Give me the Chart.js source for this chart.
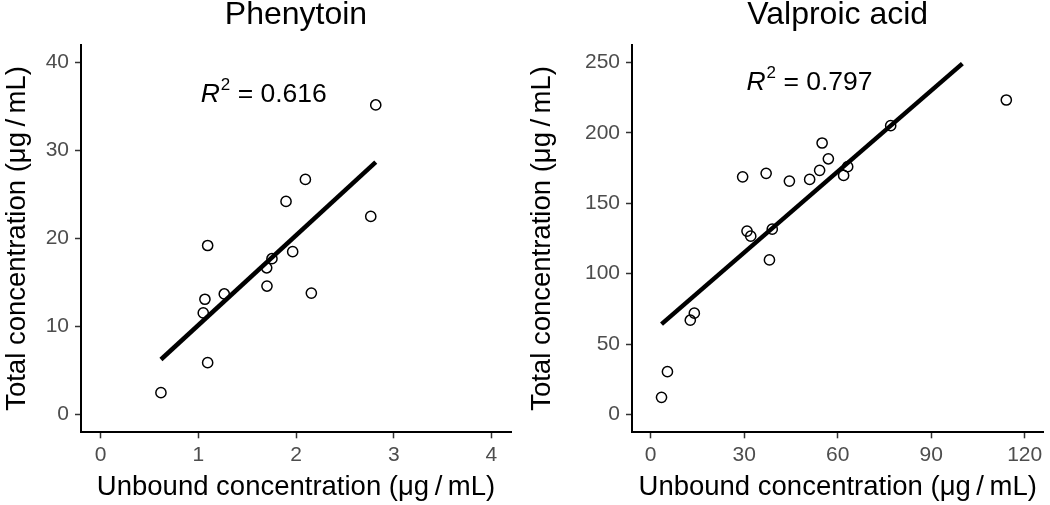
<!DOCTYPE html>
<html>
<head>
<meta charset="utf-8">
<script src="https://cdn.jsdelivr.net/npm/chart.js@4"></script>
<style>
  html, body { margin: 0; padding: 0; background: #fff; }
  .panel { position: absolute; top: 0; width: 525px; height: 505px; }
</style>
</head>
<body>
<div class="panel" style="left:0"><canvas id="phen" width="525" height="505"></canvas></div>
<div class="panel" style="left:525px"><canvas id="valp" width="525" height="505"></canvas></div>
<script>
// Phenytoin: unbound vs total (µg/mL)
const phenX = [0.618, 1.096, 1.051, 1.068, 1.096, 1.266, 1.70, 1.703, 1.754, 1.898, 1.966, 2.096, 2.157, 2.765, 2.816];
const phenY = [2.5, 5.9, 11.55, 13.1, 19.2, 13.7, 16.67, 14.6, 17.7, 24.2, 18.5, 26.7, 13.8, 22.5, 35.15];
const phenFitX = [0.618, 2.816];
const phenFitY = [6.26, 28.67];
const phenXTicks = [0, 1, 2, 3, 4];
const phenYTicks = [0, 10, 20, 30, 40];
const phenR2 = '0.616';
const phenR2At = [1.665, 35.45];

// Valproic acid
const valpX = [3.47, 5.37, 12.7, 14.0, 29.5, 30.9, 32.1, 37.04, 38.1, 39.0, 44.5, 51.0, 54.2, 55.0, 57.0, 61.9, 63.2, 77.0, 114.1];
const valpY = [12.3, 30.5, 67, 72, 168.7, 130.2, 126.6, 171.2, 109.8, 131.6, 165.7, 166.9, 173.3, 192.7, 181.5, 169.7, 175.9, 205, 223.2];
const valpFitX = [3.47, 100];
const valpFitY = [64.2, 249];
const valpXTicks = [0, 30, 60, 90, 120];
const valpYTicks = [0, 50, 100, 150, 200, 250];
const valpR2 = '0.797';
const valpR2At = [50.8, 230.3];

const FONT = '"Liberation Sans", Arial, sans-serif';
const UNIT = '(μg\u2009/\u2009mL)';

// R^2 label with italic R and superscript 2
const r2Label = {
  id: 'r2Label',
  afterDatasetsDraw(chart, args, opts) {
    const {ctx, scales} = chart;
    const cx = scales.x.getPixelForValue(opts.at[0]);
    const by = scales.y.getPixelForValue(opts.at[1]);
    const big = '26.5px ' + FONT, small = '17px ' + FONT;
    const rest = ' = ' + opts.value;
    ctx.save();
    ctx.fillStyle = '#000';
    ctx.textBaseline = 'alphabetic';
    ctx.textAlign = 'left';
    ctx.font = 'italic ' + big;
    const wR = ctx.measureText('R').width;
    ctx.font = small;
    const w2 = ctx.measureText('2').width;
    ctx.font = big;
    const wRest = ctx.measureText(rest).width;
    let x = cx - (wR + w2 + wRest) / 2;
    ctx.font = 'italic ' + big;
    ctx.fillText('R', x, by);
    x += wR + 1;
    ctx.font = small;
    ctx.fillText('2', x, by - 12);
    x += w2;
    ctx.font = big;
    ctx.fillText(rest, x, by);
    ctx.restore();
  }
};

function makeChart(id, cfg) {
  const pts = cfg.xs.map((x, i) => ({x: x, y: cfg.ys[i]}));
  const fit = cfg.fitX.map((x, i) => ({x: x, y: cfg.fitY[i]}));
  const axisGrid = {drawOnChartArea: false, drawTicks: true, tickLength: 6, tickWidth: 1.5, tickColor: '#333'};
  const axisBorder = {display: true, color: '#000', width: 2};
  return new Chart(document.getElementById(id), {
    type: 'scatter',
    data: {
      datasets: [
        {data: fit, showLine: true, borderColor: '#000', borderWidth: 4.5, pointRadius: 0, fill: false},
        {data: pts, pointRadius: 5.1, borderWidth: 1.5, borderColor: '#000', backgroundColor: 'rgba(0,0,0,0)'}
      ]
    },
    options: {
      responsive: false,
      animation: false,
      layout: {padding: {left: 0, top: 0, bottom: 0, right: cfg.padRight}},
      plugins: {
        legend: {display: false},
        tooltip: {enabled: false},
        title: {
          display: true, text: cfg.title, fullSize: false, color: '#000',
          font: {family: FONT, size: 32, weight: 'normal', lineHeight: 0.8},
          padding: {top: 2, bottom: 17}
        },
        r2Label: {at: cfg.r2At, value: cfg.r2}
      },
      scales: {
        x: {
          type: 'linear', min: cfg.xMin, max: cfg.xMax,
          afterBuildTicks: s => { s.ticks = cfg.xTicks.map(v => ({value: v})); },
          afterFit: s => { s.height = 72.7; },
          grid: axisGrid, border: axisBorder,
          ticks: {color: '#4d4d4d', padding: 4, font: {family: FONT, size: 21}},
          title: {display: true, text: 'Unbound concentration ' + UNIT, color: '#000',
                  font: {family: FONT, size: 27.5}, padding: {top: 0, bottom: 1}}
        },
        y: {
          type: 'linear', min: cfg.yMin, max: cfg.yMax,
          afterBuildTicks: s => { s.ticks = cfg.yTicks.map(v => ({value: v})); },
          afterFit: s => { s.width = cfg.yWidth; },
          grid: axisGrid, border: axisBorder,
          ticks: {color: '#4d4d4d', padding: 6, font: {family: FONT, size: 21}},
          title: {display: true, text: 'Total concentration ' + UNIT, color: '#000',
                  font: {family: FONT, size: 27.5}, padding: {top: 1, bottom: 0}}
        }
      }
    },
    plugins: [r2Label]
  });
}

makeChart('phen', {
  xs: phenX, ys: phenY, fitX: phenFitX, fitY: phenFitY,
  xMin: -0.2, xMax: 4.2, yMin: -2, yMax: 42,
  xTicks: phenXTicks, yTicks: phenYTicks,
  title: 'Phenytoin', r2: phenR2, r2At: phenR2At,
  yWidth: 81, padRight: 14
});

makeChart('valp', {
  xs: valpX, ys: valpY, fitX: valpFitX, fitY: valpFitY,
  xMin: -6, xMax: 126, yMin: -12.5, yMax: 262.5,
  xTicks: valpXTicks, yTicks: valpYTicks,
  title: 'Valproic acid', r2: valpR2, r2At: valpR2At,
  yWidth: 107, padRight: 0
});
</script>
</body>
</html>
